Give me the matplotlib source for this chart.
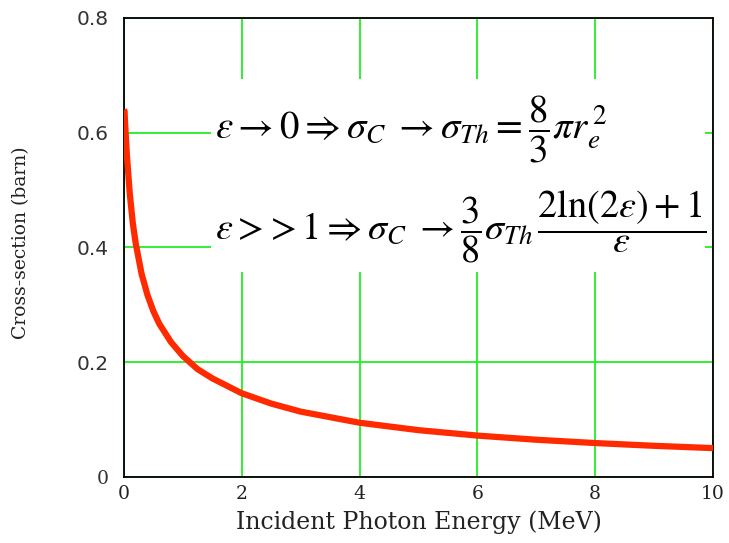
import matplotlib
matplotlib.use("Agg")
import matplotlib.pyplot as plt
from matplotlib.patches import Rectangle

plt.rcParams['mathtext.fontset'] = 'stix'

# Data (Compton cross-section, barn)
energy_mev = [0.0, 0.01, 0.02, 0.05, 0.1, 0.15, 0.2, 0.3, 0.4, 0.5, 0.6, 0.8, 1.0,
              1.25, 1.5, 2.0, 2.5, 3.0, 4.0, 5.0, 6.0, 7.0, 8.0, 9.0, 10.0]
cross_section_barn = [0.640, 0.638, 0.616, 0.561, 0.493, 0.443, 0.407, 0.354, 0.317,
                      0.289, 0.267, 0.235, 0.211, 0.188, 0.172, 0.146, 0.128, 0.114,
                      0.0946, 0.0817, 0.0722, 0.0650, 0.0592, 0.0544, 0.0504]
x_ticks = [0, 2, 4, 6, 8, 10]
y_ticks = [0, 0.2, 0.4, 0.6, 0.8]
y_tick_labels = ["0", "0.2", "0.4", "0.6", "0.8"]

fig = plt.figure(figsize=(7.29, 5.43), dpi=100)
ax = fig.add_axes([0.170, 0.1215, 0.808, 0.8454])
ax.set_xlim(0, 10)
ax.set_ylim(0, 0.8)

ax.grid(True, color='#22ee22', linewidth=1.3, zorder=1)
ax.set_axisbelow(True)

# white box behind equations
ax.add_patch(Rectangle((1.47, 0.357), 8.4, 0.336, transform=ax.transData,
                       facecolor='white', edgecolor='none', zorder=2))

ax.plot(energy_mev, cross_section_barn, color='#ff2a00', linewidth=4.5,
        solid_capstyle='butt', zorder=3)

ax.set_xticks(x_ticks)
ax.set_yticks(y_ticks)
ax.set_yticklabels(y_tick_labels, family='DejaVu Sans', fontsize=14.5, color='#333333')
ax.get_yticklabels()[0].set_family('DejaVu Serif')
ax.get_yticklabels()[0].set_fontsize(13.5)
ax.set_xticklabels([str(t) for t in x_ticks], family='DejaVu Serif', fontsize=13.5,
                   color='#222222')
ax.tick_params(length=0, pad=6)
ax.tick_params(axis='y', pad=11)
for s in ax.spines.values():
    s.set_linewidth(1.3)
    s.set_color('black')

ax.set_xlabel("Incident Photon Energy (MeV)", family='DejaVu Serif', fontsize=17,
              color='#222222', va='center')
ax.xaxis.set_label_coords(0.5, (477 - 522) / 459)
ax.set_ylabel("Cross-section (barn)", family='DejaVu Serif', fontsize=13.5,
              color='#222222', va='center')
ax.yaxis.set_label_coords((21 - 124) / 589, 0.51)

ax.text(0.155, 0.758, r"$\varepsilon \rightarrow 0 \Rightarrow \sigma_C \;\rightarrow \sigma_{Th} = \dfrac{8}{3}\pi r_e^{\,2}$",
        transform=ax.transAxes, fontsize=28, va='center', ha='left', zorder=4)
ax.text(0.155, 0.545, r"$\varepsilon >\!> 1 \Rightarrow \sigma_C \;\rightarrow \dfrac{3}{8}\sigma_{Th}\,\dfrac{2\ln(2\varepsilon)+1}{\varepsilon}$",
        transform=ax.transAxes, fontsize=27.5, va='center', ha='left', zorder=4)

fig.savefig("out.png", dpi=100)
